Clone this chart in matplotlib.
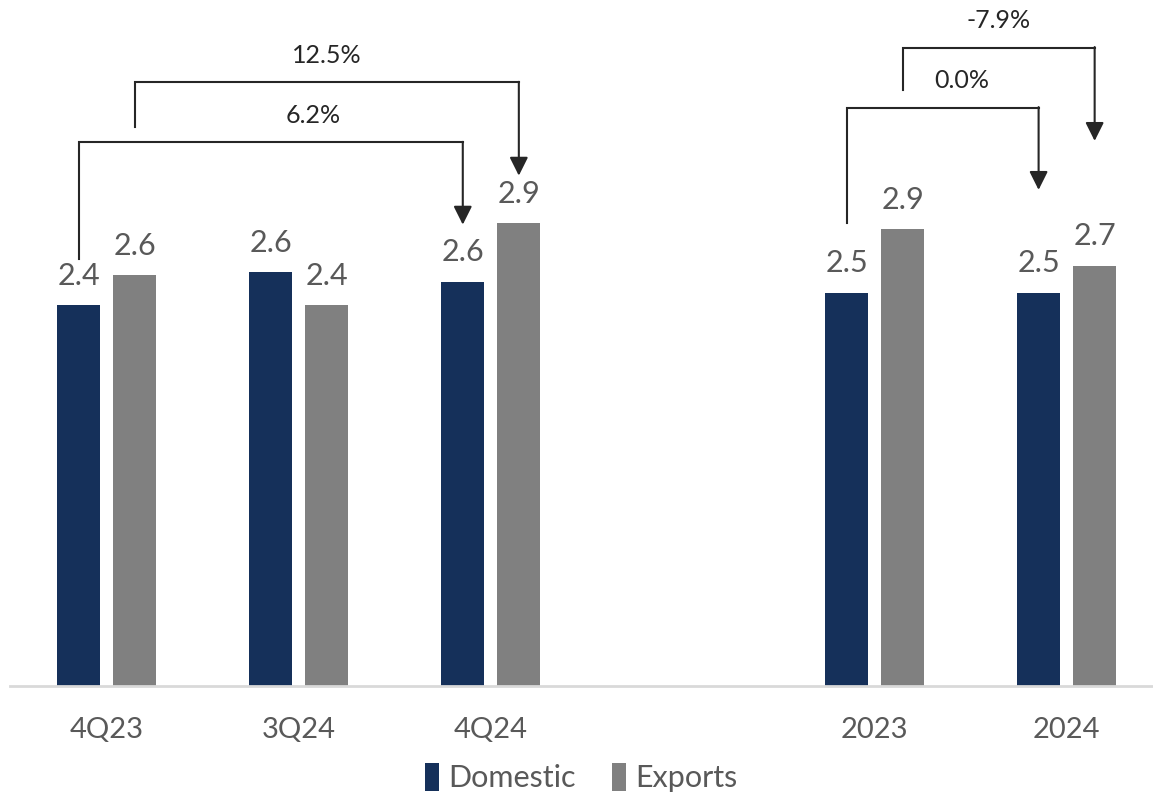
import numpy as np
import matplotlib.pyplot as plt

plt.rcParams['font.family'] = ['Lato', 'DejaVu Sans']

# data
categories = ['4Q23', '3Q24', '4Q24', '2023', '2024']
domestic = [2.41, 2.62, 2.56, 2.49, 2.49]
exports = [2.60, 2.41, 2.93, 2.89, 2.66]
# (series, from idx, to idx, label)
changes = [
    ('dom', 0, 2, '6.2%'),
    ('exp', 0, 2, '12.5%'),
    ('dom', 3, 4, '0.0%'),
    ('exp', 3, 4, '-7.9%'),
]

navy = '#15305A'
grey = '#808080'
txt = '#595959'
dark = '#262626'

xpos = np.array([0, 1, 2, 4, 5])
w = 0.224
off = 0.146

fig = plt.figure(figsize=(11.53, 7.99), dpi=100)
ax = fig.add_axes([10 / 1153, 113 / 799, 1143 / 1153, 686 / 799])

b1 = ax.bar(xpos - off, domestic, w, color=navy, label='Domestic')
b2 = ax.bar(xpos + off, exports, w, color=grey, label='Exports')

for bars, vals in [(b1, domestic), (b2, exports)]:
    for r, v in zip(bars, vals):
        ax.annotate(f'{v:.1f}', (r.get_x() + r.get_width() / 2, v),
                    xytext=(0, 11), textcoords='offset points',
                    ha='center', va='bottom', fontsize=22, color=txt)

# bracket levels: start, top, arrow tip (data units), text dx
levels = [
    (2.70, 3.44, 2.92, 0.22),
    (3.54, 3.82, 3.23, 0.0),
    (2.93, 3.66, 3.14, 0.10),
    (3.77, 4.04, 3.45, 0.0),
]

for (ser, i, j, lab), (y0, ytop, ytip, dx) in zip(changes, levels):
    o = -off if ser == 'dom' else off
    x0 = xpos[i] + o
    x1 = xpos[j] + o
    ax.plot([x0, x0, x1], [y0, ytop, ytop], color=dark, lw=1.5,
            solid_joinstyle='miter')
    ax.annotate('', xy=(x1, ytip), xytext=(x1, ytop + 0.004),
                arrowprops=dict(arrowstyle='-|>', color=dark, lw=1.5,
                                mutation_scale=28, shrinkA=0, shrinkB=0))
    ax.text((x0 + x1) / 2 + dx, ytop + 0.17, lab, ha='center', va='center',
            fontsize=18, color=dark)

ax.set_xlim(-0.505, 5.45)
ax.set_ylim(0, 686 / 158)
ax.set_xticks(xpos)
ax.set_xticklabels(categories, fontsize=21, color=txt)
ax.tick_params(axis='x', length=0, pad=22)
ax.set_yticks([])
for s in ['top', 'right', 'left']:
    ax.spines[s].set_visible(False)
ax.spines['bottom'].set_color('#D9D9D9')
ax.spines['bottom'].set_linewidth(2)

leg = ax.legend(loc='center', bbox_to_anchor=(0.5, -0.134), ncol=2,
                frameon=False, handlelength=0.45,
                handleheight=1.0, handletextpad=0.3, columnspacing=1.2,
                prop={'size': 22}, labelcolor=txt)

fig.savefig('out.png', dpi=100)
